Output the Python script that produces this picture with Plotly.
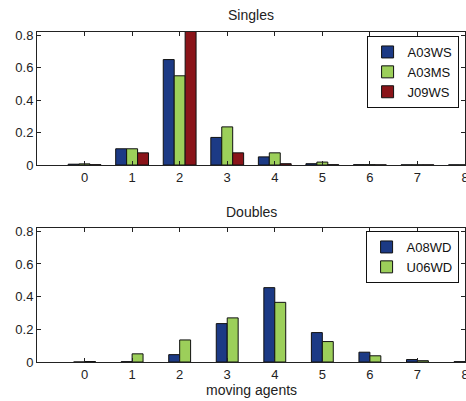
import plotly.graph_objects as go

agents = [0, 1, 2, 3, 4, 5, 6, 7, 8]
tick_labels = ["0", "1", "2", "3", "4", "5", "6", "7", "8"]
y_ticks = [0, 0.2, 0.4, 0.6, 0.8]
y_tick_labels = ["0", "0.2", "0.4", "0.6", "0.8"]

a03ws = [0.005, 0.10, 0.65, 0.17, 0.05, 0.008, 0.002, 0.001, 0.001]
a03ms = [0.007, 0.10, 0.55, 0.235, 0.075, 0.018, 0.002, 0.001, 0.001]
j09ws = [0.002, 0.075, 0.95, 0.075, 0.008, 0.002, 0.001, 0.001, 0.001]

a08wd = [0.0, 0.002, 0.045, 0.235, 0.455, 0.18, 0.06, 0.015, 0.002]
u06wd = [0.003, 0.05, 0.135, 0.27, 0.365, 0.125, 0.038, 0.008, 0.003]

BLUE = "#1c3a85"
GREEN = "#9ccf5a"
RED = "#8a1419"
FONT = "Liberation Sans"
BAR_W = 0.23

W, H = 466, 401
fig = go.Figure()

top_series = [("A03WS", a03ws, BLUE), ("A03MS", a03ms, GREEN), ("J09WS", j09ws, RED)]
bot_series = [("A08WD", a08wd, BLUE), ("U06WD", u06wd, GREEN)]

for series, xa, ya, leg in [(top_series, "x", "y", "legend"), (bot_series, "x2", "y2", "legend2")]:
    n = len(series)
    for i, (name, vals, col) in enumerate(series):
        fig.add_trace(go.Bar(
            x=agents, y=vals, name=name, xaxis=xa, yaxis=ya, legend=leg,
            width=BAR_W, offset=-n * BAR_W / 2 + i * BAR_W,
            marker=dict(color=col, line=dict(color="#111111", width=1)),
        ))

def px_dom(top_px, bot_px):
    return [1 - bot_px / H, 1 - top_px / H]

axis_common = dict(
    showline=True, linecolor="#222222", linewidth=1, mirror="ticks",
    ticks="inside", ticklen=4, tickcolor="#222222", showgrid=False, zeroline=False,
    automargin=False, ticklabeloverflow="allow",
    tickfont=dict(family=FONT, size=13, color="#222222"),
)

legend_common = dict(
    xanchor="right", yanchor="top", bordercolor="#111111", borderwidth=1, bgcolor="white",
    font=dict(family=FONT, size=13, color="#111111"), tracegroupgap=0, itemwidth=30,
)

fig.update_layout(
    width=W, height=H,
    margin=dict(l=37, r=1, t=0, b=0, autoexpand=False),
    paper_bgcolor="white", plot_bgcolor="white",
    barmode="overlay",
    showlegend=True,
    font=dict(family=FONT, size=13, color="#222222"),
    xaxis=dict(domain=[0, 1], range=[-1, 8], tickvals=agents, ticktext=tick_labels, anchor="y", **axis_common),
    yaxis=dict(domain=px_dom(32, 165), range=[0, 0.82], tickvals=y_ticks, ticktext=y_tick_labels, anchor="x", **axis_common),
    xaxis2=dict(domain=[0, 1], range=[-1, 8], tickvals=agents, ticktext=tick_labels, anchor="y2", **axis_common),
    yaxis2=dict(domain=px_dom(228, 362), range=[0, 0.82], tickvals=y_ticks, ticktext=y_tick_labels, anchor="x2", **axis_common),
    legend=dict(x=0.985, y=1 - 36 / H, **legend_common),
    legend2=dict(x=0.985, y=1 - 231 / H, **legend_common),
    annotations=[
        dict(text="Singles", x=0.5, y=1 - 15 / H, xref="paper", yref="paper", showarrow=False,
             yanchor="middle", font=dict(family=FONT, size=14, color="#222222")),
        dict(text="Doubles", x=0.5, y=1 - 212 / H, xref="paper", yref="paper", showarrow=False,
             yanchor="middle", font=dict(family=FONT, size=14, color="#222222")),
        dict(text="moving agents", x=0.5, y=1 - 390 / H, xref="paper", yref="paper", showarrow=False,
             yanchor="middle", font=dict(family=FONT, size=14, color="#222222")),
    ],
)

fig.write_html(
    "out.html",
    config={"displayModeBar": False},
    post_script="document.body.style.margin='0';document.body.style.overflow='hidden';",
)
